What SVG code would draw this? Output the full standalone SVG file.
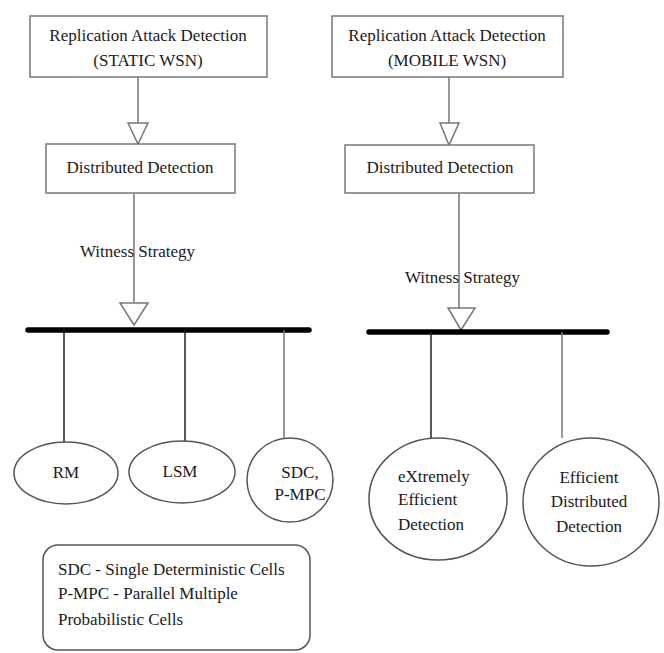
<svg xmlns="http://www.w3.org/2000/svg" width="664" height="653" viewBox="0 0 664 653">
<style>
.box{fill:#fff;stroke:#777;stroke-width:1.5}
.ell{fill:#fff;stroke:#555;stroke-width:1.5}
.t{font-family:"Liberation Serif","Times New Roman",serif;font-size:17px;fill:#1a1a1a}
.c{text-anchor:middle}
.con{stroke:#777;stroke-width:1.5;fill:none}
.drop{stroke:#222;stroke-width:1.5;fill:none}
.tri{fill:#fff;stroke:#777;stroke-width:1.5}
.bar{stroke:#000;stroke-width:5.5;stroke-linecap:round}
</style>
<rect width="664" height="653" fill="#fff"/>
<g id="connectors">
<line class="con" x1="138" y1="77" x2="138" y2="124"/>
<polygon class="tri" points="128,123 148,123 138,144"/>
<line class="con" x1="134" y1="193" x2="134" y2="304"/>
<polygon class="tri" points="120,303 148,303 134,325"/>
<line class="bar" x1="28" y1="330" x2="309" y2="330"/>
<line class="drop" x1="64" y1="330" x2="64" y2="442"/>
<line class="drop" x1="185" y1="330" x2="185" y2="442"/>
<line class="con" x1="284" y1="330" x2="284" y2="438"/>
<line class="con" x1="449" y1="77" x2="449" y2="124"/>
<polygon class="tri" points="440,123 459,123 449,145"/>
<line class="con" x1="459" y1="193" x2="459" y2="309"/>
<polygon class="tri" points="448,308 475,308 461,330"/>
<line class="bar" x1="369" y1="332" x2="607" y2="332"/>
<line class="drop" x1="431" y1="332" x2="431" y2="439"/>
<line class="con" x1="562" y1="332" x2="562" y2="438"/>
<text class="t" x="80" y="257">Witness Strategy</text>
<text class="t" x="405" y="283">Witness Strategy</text>
</g>
<g id="static-root">
<rect class="box" x="30" y="16" width="237" height="61"/>
<text class="t c" x="148" y="41">Replication Attack Detection</text>
<text class="t c" x="148" y="66">(STATIC WSN)</text>
</g>
<g id="static-distributed">
<rect class="box" x="46" y="144" width="189" height="49"/>
<text class="t c" x="140" y="173">Distributed Detection</text>
</g>
<g id="mobile-root">
<rect class="box" x="332" y="16" width="231" height="61"/>
<text class="t c" x="447" y="41">Replication Attack Detection</text>
<text class="t c" x="447" y="66">(MOBILE WSN)</text>
</g>
<g id="mobile-distributed">
<rect class="box" x="345" y="145" width="189" height="48"/>
<text class="t c" x="440" y="173">Distributed Detection</text>
</g>
<g id="rm">
<ellipse class="ell" cx="66" cy="473" rx="52" ry="31"/>
<text class="t c" x="66" y="478">RM</text>
</g>
<g id="lsm">
<ellipse class="ell" cx="182" cy="472" rx="53" ry="31"/>
<text class="t c" x="180" y="477">LSM</text>
</g>
<g id="sdc">
<ellipse class="ell" cx="290" cy="480" rx="43" ry="42"/>
<text class="t c" x="300" y="478">SDC,</text>
<text class="t c" x="300" y="500">P-MPC</text>
</g>
<g id="xed">
<ellipse class="ell" cx="438" cy="499" rx="69" ry="61"/>
<text class="t" x="398" y="482">eXtremely</text>
<text class="t" x="398" y="505">Efficient</text>
<text class="t" x="398" y="530">Detection</text>
</g>
<g id="edd">
<ellipse class="ell" cx="591" cy="502" rx="68" ry="64"/>
<text class="t c" x="589" y="483">Efficient</text>
<text class="t c" x="589" y="507">Distributed</text>
<text class="t c" x="589" y="532">Detection</text>
</g>
<g id="legend">
<rect class="box" x="43" y="545" width="267" height="105" rx="15" style="stroke:#555"/>
<text class="t" x="58" y="575">SDC - Single Deterministic Cells</text>
<text class="t" x="58" y="599">P-MPC - Parallel  Multiple</text>
<text class="t" x="58" y="625">Probabilistic Cells</text>
</g>
</svg>
